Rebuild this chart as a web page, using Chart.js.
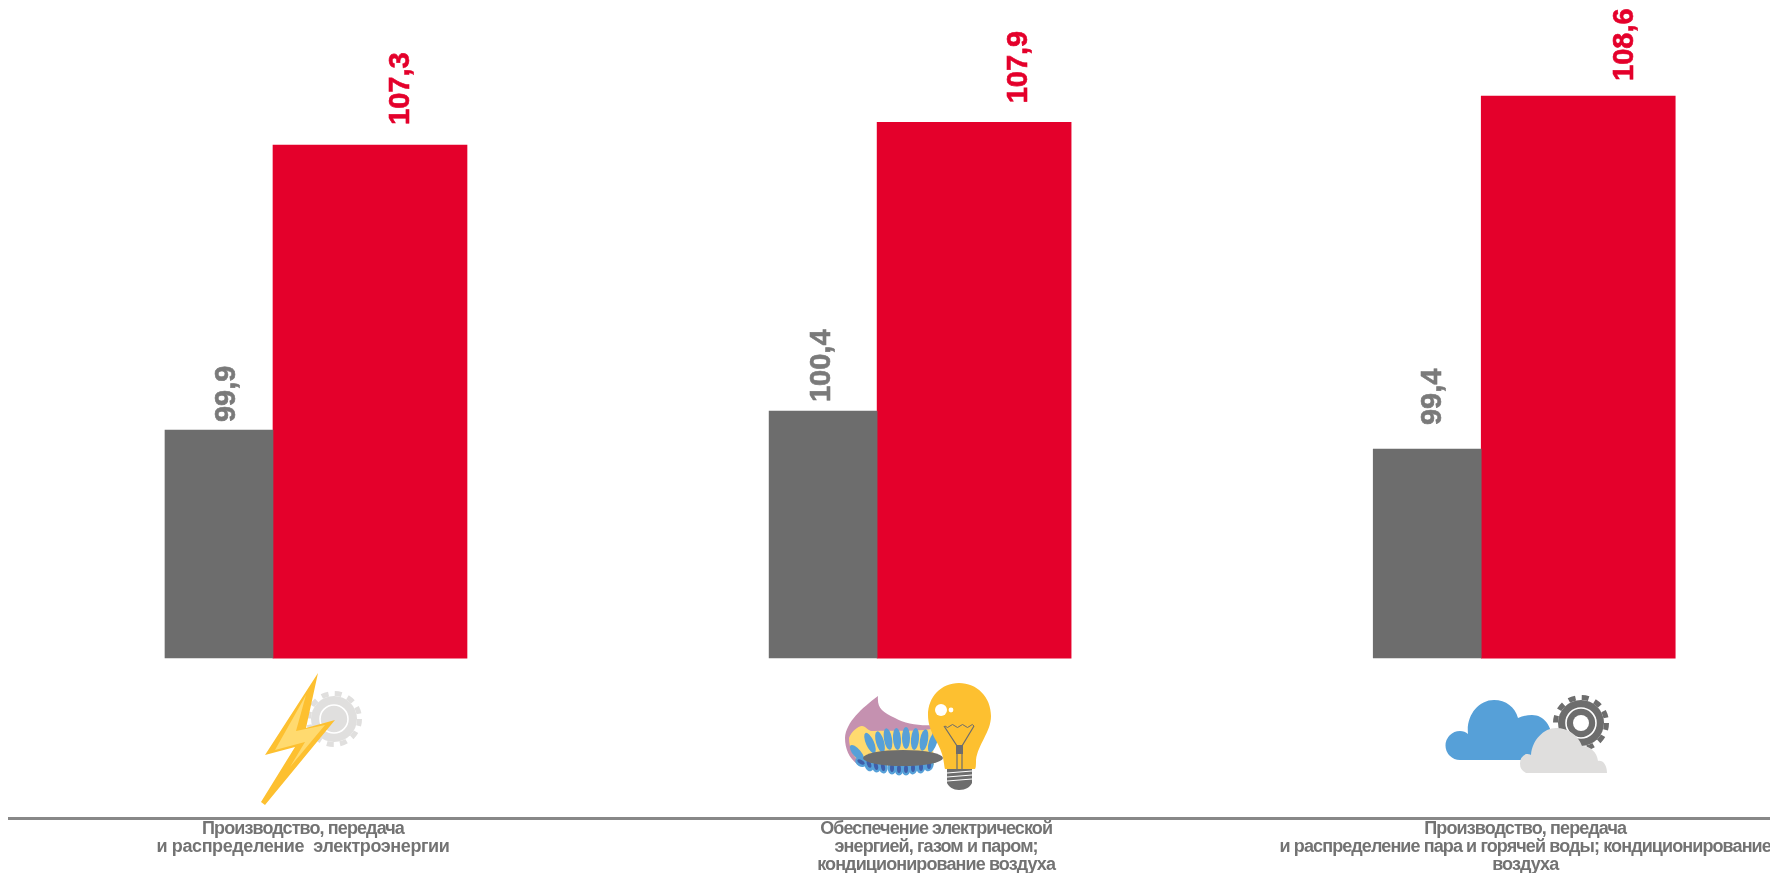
<!DOCTYPE html>
<html lang="ru">
  <head>
    <meta charset="UTF-8" />
    <title>Индексы производства</title>
    <script src="https://cdn.jsdelivr.net/npm/chart.js"></script>
    <style>
      html, body { margin: 0; padding: 0; background: #fff; overflow: hidden; }
      .wrap { position: relative; width: 1770px; height: 873px; }
      canvas { position: absolute; left: 0; top: 0; }
      svg.icons { position: absolute; left: 0; top: 0; pointer-events: none; }
    </style>
  </head>
  <body>
    <div class="wrap">
      <canvas id="chart" width="1770" height="873"></canvas>
      <svg class="icons" width="1770" height="873" viewBox="0 0 1770 873">
        <!-- bolt and gear -->
        <circle cx="334" cy="719" r="23" fill="#e0dfde" />
        <circle cx="334" cy="719" r="25.5" fill="none" stroke="#e0dfde" stroke-width="5" stroke-dasharray="7 6.35" />
        <circle cx="334" cy="719" r="14" fill="none" stroke="#fff" stroke-width="1.6" />
        <path d="M318 673 L265 755 L295 747 L261 802 L265 805 L335 720 L306 728 Z" fill="#fdc030" />
        <path d="M306 695 L275 750 L305 742 L290 767 L325 725 L296 731 Z" fill="#ffda6f" />

        <!-- gas burner -->
        <path d="M878 696 C862 708 846 722 845 738 C845 750 850 760 860 766 L930 760 L934 725 C920 726 905 724 895 718 C882 712 877 708 878 696 Z" fill="#c591b0" />
        <path d="M849 738 C851 732 858 726 862 726 C866 726 868 732 874 731 C890 730 910 732 932 729 L934 765 L865 766 C855 760 849 750 849 738 Z" fill="#ffda6f" />
        <g fill="#56a0d8">
          <ellipse cx="857" cy="753" rx="4" ry="10" transform="rotate(-40 857 753)" />
          <ellipse cx="870" cy="743" rx="4" ry="11" transform="rotate(-24 870 743)" />
          <ellipse cx="880" cy="742" rx="4" ry="11" transform="rotate(-16 880 742)" />
          <ellipse cx="888" cy="739" rx="4" ry="11" transform="rotate(-10 888 739)" />
          <ellipse cx="897" cy="739" rx="4" ry="11" transform="rotate(-4 897 739)" />
          <ellipse cx="906" cy="738" rx="4" ry="11" />
          <ellipse cx="915" cy="739" rx="4" ry="11" transform="rotate(5 915 739)" />
          <ellipse cx="924" cy="740" rx="4" ry="11" transform="rotate(10 924 740)" />
          <ellipse cx="933" cy="742" rx="4" ry="11" transform="rotate(18 933 742)" />
          <ellipse cx="861" cy="762" rx="6" ry="4.5" transform="rotate(30 861 762)" />
          <ellipse cx="869" cy="765" rx="4.5" ry="6.5" transform="rotate(-20 869 765)" />
          <ellipse cx="876" cy="766" rx="4.5" ry="6.5" transform="rotate(-14 876 766)" />
          <ellipse cx="883" cy="767" rx="4.5" ry="6.5" transform="rotate(-10 883 767)" />
          <ellipse cx="892" cy="768" rx="4.5" ry="6.5" />
          <ellipse cx="899" cy="769" rx="4.5" ry="6.5" />
          <ellipse cx="906" cy="769" rx="4.5" ry="6.5" />
          <ellipse cx="913" cy="768" rx="4.5" ry="6.5" transform="rotate(8 913 768)" />
          <ellipse cx="921" cy="767" rx="4.5" ry="6.5" transform="rotate(12 921 767)" />
          <ellipse cx="929" cy="765" rx="4.5" ry="6.5" transform="rotate(18 929 765)" />
        </g>
        <g fill="#3f5ea8">
          <ellipse cx="861" cy="762" rx="4" ry="2" transform="rotate(30 861 762)" />
          <ellipse cx="869" cy="764" rx="2" ry="4" transform="rotate(-20 869 764)" />
          <ellipse cx="876" cy="766" rx="2" ry="4" transform="rotate(-14 876 766)" />
          <ellipse cx="883" cy="767" rx="2" ry="4" transform="rotate(-10 883 767)" />
          <ellipse cx="892" cy="768" rx="2" ry="4" />
          <ellipse cx="899" cy="769" rx="2" ry="4" />
          <ellipse cx="906" cy="769" rx="2" ry="4" />
          <ellipse cx="913" cy="768" rx="2" ry="4" />
          <ellipse cx="921" cy="767" rx="2" ry="4" />
          <ellipse cx="929" cy="765" rx="2" ry="4" />
        </g>
        <ellipse cx="903" cy="758" rx="40" ry="8" fill="#6d6d6d" />

        <!-- bulb -->
        <path d="M959 683 C977 683 991 697 991 716 C991 732 978 744 976 760 C976 764 976 768 975 769 L945 769 C944 766 944 760 942 754 C939 742 928 732 928 715 C928 697 941 683 959 683 Z" fill="#fdc030" />
        <circle cx="941" cy="710" r="6" fill="#fff" />
        <circle cx="951" cy="710" r="2.4" fill="#fff" />
        <path d="M945 726 q2.5 3 5 0 t5 0 t5 0 t5 0 t5 0 t4 0" fill="none" stroke="#6d6d6d" stroke-width="1" />
        <path d="M944 726 L957 746 L957 769 M974 726 L962 746 L962 769" fill="none" stroke="#6d6d6d" stroke-width="1.2" />
        <rect x="956" y="745" width="7" height="9" fill="#6d6d6d" />
        <path d="M947 769 L972 769 L972 783 C970 787 966 790 959 790 C953 790 949 787 947 783 Z" fill="#6d6d6d" />
        <path d="M947 773 L972 771 M947 777 L972 775 M947 781 L972 779" stroke="#fff" stroke-width="1" />

        <!-- clouds and gear -->
        <path d="M1460 760 A14.5 14.5 0 0 1 1460 731 C1463 731 1466 732 1468 734 C1466 716 1478 700 1494 700 C1506 700 1515 707 1518 718 C1522 716 1527 715 1532 715 C1544 715 1552 726 1552 740 L1552 760 Z" fill="#56a0d8" />
        <circle cx="1581" cy="723" r="23" fill="#6d6d6d" />
        <circle cx="1581" cy="723" r="25.5" fill="none" stroke="#6d6d6d" stroke-width="5" stroke-dasharray="7 6.35" />
        <circle cx="1581" cy="723" r="15" fill="none" stroke="#fff" stroke-width="1.6" />
        <circle cx="1581" cy="723" r="8" fill="#fff" />
        <path d="M1526 773 A10.5 10.5 0 0 1 1526 754 C1528 754 1530 754 1531 755 C1532 740 1544 728 1556 728 C1568 728 1578 735 1582 746 C1590 746 1597 752 1598 761 C1603 760 1607 765 1607 773 Z" fill="#dfdedd" />
      </svg>
    </div>

    <script>
      const categories = [
        ["Производство, передача", "и распределение  электроэнергии"],
        ["Обеспечение электрической", "энергией, газом и паром;", "кондиционирование воздуха"],
        ["Производство, передача", "и распределение пара и горячей воды; кондиционирование", "воздуха"],
      ]
      const greyValues = [99.9, 100.4, 99.4]
      const redValues = [107.3, 107.9, 108.6]

      const grey = "#6d6d6d"
      const red = "#e4002b"

      // the labels in the picture sit at uneven offsets from their bars
      const labelShift = {
        grey: [[8, 8], [-1, 9], [6, 24]],
        red: [[31, 20], [45, 19], [47, 15]],
      }
      const categoryShift = [30, 59, 44]

      const fmt = (v) => v.toFixed(1).replace(".", ",")

      const textPlugin = {
        id: "texts",
        afterDatasetsDraw(chart) {
          const ctx = chart.ctx
          const draw = (datasetIndex, values, shift, color) => {
            chart.getDatasetMeta(datasetIndex).data.forEach((bar, i) => {
              ctx.save()
              ctx.translate(bar.x + shift[i][0], bar.y - shift[i][1])
              ctx.rotate(-Math.PI / 2)
              ctx.font = "bold 29px 'Liberation Sans'"
              ctx.fillStyle = color
              ctx.strokeStyle = color
              ctx.lineWidth = 0.6
              ctx.textAlign = "left"
              ctx.textBaseline = "middle"
              ctx.fillText(fmt(values[i]), 0, 0)
              ctx.strokeText(fmt(values[i]), 0, 0)
              ctx.restore()
            })
          }
          draw(0, greyValues, labelShift.grey, "#7a7a7a")
          draw(1, redValues, labelShift.red, red)

          const xScale = chart.scales.x
          ctx.save()
          ctx.font = "bold 18px 'Liberation Sans'"
          ctx.fillStyle = "#737373"
          ctx.textAlign = "center"
          ctx.textBaseline = "middle"
          categories.forEach((lines, i) => {
            lines.forEach((line, j) => {
              // the second line of the first label is set looser
              ctx.letterSpacing = i === 0 && j === 1 ? "-0.4px" : "-0.9px"
              ctx.fillText(line, xScale.getPixelForValue(i) + categoryShift[i], 829 + j * 18)
            })
          })
          ctx.restore()
        },
      }

      new Chart(document.getElementById("chart"), {
        type: "bar",
        data: {
          datasets: [
            {
              data: greyValues.map((v, i) => ({ x: i, y: v })),
              backgroundColor: grey,
              barThickness: 108,
              yAxisID: "yGrey",
              base: 93.9,
            },
            {
              data: redValues.map((v, i) => ({ x: i, y: v })),
              backgroundColor: red,
              barThickness: 194,
              yAxisID: "yRed",
              base: 93.69,
            },
          ],
        },
        options: {
          responsive: false,
          animation: false,
          layout: { padding: { left: 9, right: 0, top: 0, bottom: 47 } },
          plugins: { legend: { display: false }, tooltip: { enabled: false } },
          scales: {
            x: {
              type: "linear",
              offset: false,
              min: -0.437,
              max: 2.478,
              grid: { display: false, offset: false },
              border: { color: "#888888", width: 3 },
              ticks: { display: false },
            },
            yGrey: { display: false, min: 89.69, max: 111.216 },
            yRed: { display: false, min: 89.448, max: 111.146 },
          },
        },
        plugins: [textPlugin],
      })
    </script>
  </body>
</html>
